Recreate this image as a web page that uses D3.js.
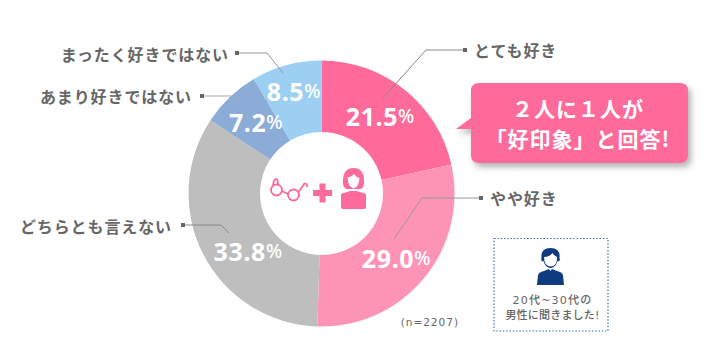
<!DOCTYPE html>
<html lang="ja">
<head>
<meta charset="utf-8">
<script src="https://cdn.jsdelivr.net/npm/d3@7"></script>
<style>
html, body { margin: 0; padding: 0; background: #fff; }
svg { display: block; }
text { font-family: "Noto Sans CJK JP", sans-serif; }
</style>
</head>
<body>
<div id="chart"></div>
<script>
const categories = ["とても好き", "やや好き", "どちらとも言えない", "あまり好きではない", "まったく好きではない"];
const values = [21.5, 29.0, 33.8, 7.2, 8.5];
const sliceColors = ["#fe6a99", "#fd94b6", "#bebebe", "#8bacd6", "#9ccff2"];
const calloutLines = ["\uFF12人に\uFF11人が", "「好印象」と回答!"];
const noteLines = ["20代~30代の", "男性に聞きました!"];
const sampleNote = "(n=2207)";

const width = 712, height = 363;
const cx = 321.5, cy = 193.5, outer = 133, inner = 61.5;

// label anchor and leader line per slice, in page coordinates
const leaders = [
    {text: [474, 49.5], anchor: "start", pts: [[465, 50], [426, 50], [383, 98]], color: "#8a8a8a"},
    {text: [490, 198], anchor: "start", pts: [[481, 198], [422, 198], [394, 239]], color: "#999"},
    {text: [172, 226], anchor: "end", pts: [[183, 225], [221, 225], [229, 233]], color: "#888"},
    {text: [192, 96], anchor: "end", pts: [[202, 96], [234, 96], [242, 105]], color: "#aaa"},
    {text: [229, 53.5], anchor: "end", pts: [[237, 53], [267, 53], [283, 73]], color: "#999"}
];

const svg = d3.select("#chart").append("svg")
    .attr("width", width)
    .attr("height", height);

const defs = svg.append("defs");
const shadow = defs.append("filter").attr("id", "shadow")
    .attr("x", "-10%").attr("y", "-15%").attr("width", "125%").attr("height", "140%");
shadow.append("feDropShadow")
    .attr("dx", 3).attr("dy", 4).attr("stdDeviation", 3)
    .attr("flood-color", "#000").attr("flood-opacity", 0.3);

const pie = d3.pie().sort(null).value(d => d)(values);
const arc = d3.arc().innerRadius(inner).outerRadius(outer);

const donut = svg.append("g").attr("transform", `translate(${cx},${cy})`);

donut.selectAll(".slice")
    .data(pie)
    .join("path")
        .attr("class", "slice")
        .attr("d", arc)
        .attr("fill", (d, i) => sliceColors[i]);

// leader lines sit on top of the slices, under the numbers
const line = d3.line();
leaders.forEach(l => {
    svg.append("path")
        .attr("d", line(l.pts))
        .attr("fill", "none")
        .attr("stroke", l.color)
        .attr("stroke-width", 1);
    svg.append("rect")
        .attr("x", l.pts[0][0] - 2)
        .attr("y", l.pts[0][1] - 2)
        .attr("width", 4)
        .attr("height", 4)
        .attr("fill", "#666");
});

svg.selectAll(".cat")
    .data(categories)
    .join("text")
        .attr("class", "cat")
        .attr("x", (d, i) => leaders[i].text[0])
        .attr("y", (d, i) => leaders[i].text[1])
        .attr("text-anchor", (d, i) => leaders[i].anchor)
        .attr("dominant-baseline", "central")
        .style("font-size", "16px")
        .style("font-weight", 700)
        .style("letter-spacing", "0.9px")
        .style("fill", "#666")
        .text(d => d);

// percent labels, nudged off the arc centroid
const pctOffset = [[-2, -2], [0, 2.5], [13, 13], [1.5, -1], [-2, -9]];
const labels = donut.selectAll(".pct")
    .data(pie)
    .join("text")
        .attr("class", "pct")
        .attr("x", (d, i) => arc.centroid(d)[0] + pctOffset[i][0])
        .attr("y", (d, i) => arc.centroid(d)[1] + pctOffset[i][1])
        .attr("text-anchor", "middle")
        .attr("dominant-baseline", "central")
        .style("fill", "#fff")
        .style("font-family", "'Noto Sans', sans-serif")
        .style("font-weight", 700)
        .style("font-size", "25px")
        .style("letter-spacing", "0.6px");
labels.append("tspan").text(d => d.value.toFixed(1));
labels.append("tspan").style("font-size", "19px").style("font-weight", 500).text("%");

// glasses + woman in the hole
const pink = "#fe6a99";
const icons = svg.append("g");
icons.append("circle").attr("cx", 276.5).attr("cy", 190).attr("r", 5.5)
    .attr("fill", "none").attr("stroke", pink).attr("stroke-width", 1.8);
icons.append("circle").attr("cx", 293.5).attr("cy", 195).attr("r", 5.5)
    .attr("fill", "none").attr("stroke", pink).attr("stroke-width", 1.8);
icons.append("path").attr("d", "M282 191 L288 194 M273 185 Q274 179 276 179 Q278 179 278 185 M298.500 192 L304 184 Q306 182 307.500 187")
    .attr("fill", "none").attr("stroke", pink).attr("stroke-width", 1.8);
icons.append("rect").attr("x", 313).attr("y", 190).attr("width", 19).attr("height", 6).attr("fill", pink);
icons.append("rect").attr("x", 319.500).attr("y", 183.500).attr("width", 6).attr("height", 19).attr("fill", pink);
icons.append("path")
    .attr("d", "M341 195 Q341 193 344 193 L350 191 L357 191 L363 193 Q366 193 366 195 L366 207 Q366 209 364 209 L343 209 Q341 209 341 207 Z")
    .attr("fill", pink);
icons.append("path")
    .attr("d", "M343 184 Q342 168 353.500 168 Q365 168 364 184 Q363 190 358 189 L349 189 Q344 190 343 184 Z")
    .attr("fill", pink);
icons.append("path")
    .attr("d", "M347.500 177 Q351 178 354 174 Q356 177 359.500 178 Q359 187 353.500 188.500 Q348 187 347.500 177 Z")
    .attr("fill", "#fff");

// callout
const calloutG = svg.append("g");
calloutG.append("path")
    .attr("d", "M479 83 H680 Q688 83 688 91 V155 Q688 163 680 163 H479 Q471 163 471 155 V129 H456 L471 118 V91 Q471 83 479 83 Z")
    .attr("fill", pink)
    .attr("filter", "url(#shadow)");
calloutG.selectAll("text")
    .data(calloutLines)
    .join("text")
        .attr("x", 578)
        .attr("y", (d, i) => 108 + i * 30)
        .attr("text-anchor", "middle")
        .attr("dominant-baseline", "central")
        .style("fill", "#fff")
        .style("font-size", "21px")
        .style("font-weight", 700)
        .style("letter-spacing", "1px")
        .text(d => d);

// dotted note box
const navy = "#0f3c80";
svg.append("rect")
    .attr("x", 494).attr("y", 238.5).attr("width", 114).attr("height", 92.5)
    .attr("fill", "none")
    .attr("stroke", "#3f6fae")
    .attr("stroke-width", 1.2)
    .attr("stroke-dasharray", "1.500 1.800");
const person = svg.append("g");
person.append("path")
    .attr("d", "M537 285 L538 275 Q539 272 544 271 L549 269 L550.500 271 L552 269 L557 271 Q562 272 563 275 L564 285 Z")
    .attr("fill", navy);
person.append("path")
    .attr("d", "M541.500 258 Q540.500 248 550.500 248 Q560.500 248 559.500 258 Q560.500 262 557.500 261 Q555.500 268 550.500 268 Q545.500 268 543.500 261 Q540.500 262 541.500 258 Z")
    .attr("fill", navy);
person.append("path")
    .attr("d", "M544 257 Q549.500 257 552.500 253 Q554.500 256 557 257 Q557.500 266 550.500 266.500 Q544 266 544 257 Z")
    .attr("fill", "#fff");
svg.selectAll(".note")
    .data(noteLines)
    .join("text")
        .attr("class", "note")
        .attr("x", 552.5)
        .attr("y", (d, i) => 300 + i * 15)
        .attr("text-anchor", "middle")
        .attr("dominant-baseline", "central")
        .style("fill", "#666")
        .style("font-family", "'DejaVu Sans', 'Noto Sans CJK JP', sans-serif")
        .style("font-size", "11px")
        .style("font-weight", 500)
        .style("letter-spacing", (d, i) => i === 0 ? "1.2px" : "0.2px")
        .text(d => d);

svg.append("text")
    .attr("x", 459)
    .attr("y", 322)
    .attr("text-anchor", "end")
    .attr("dominant-baseline", "central")
    .style("font-family", "'DejaVu Sans', sans-serif")
    .style("font-size", "10.5px")
    .style("fill", "#666")
    .style("letter-spacing", "1px")
    .text(sampleNote);
</script>
</body>
</html>
